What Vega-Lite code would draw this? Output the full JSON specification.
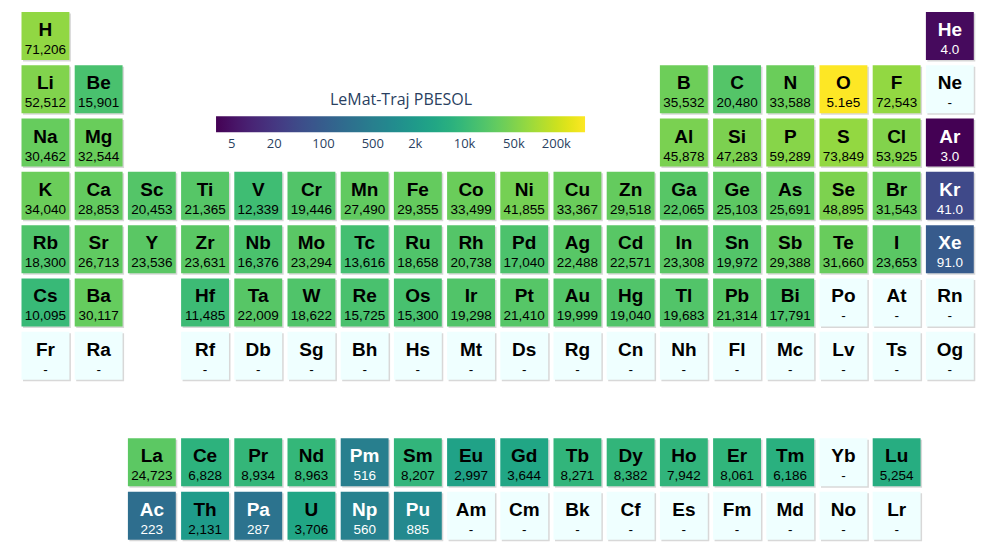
{
  "$schema": "https://vega.github.io/schema/vega-lite/v6.json",
  "autosize": "none",
  "padding": {"left": 18.84, "top": 9.3, "right": 0, "bottom": 0},
  "width": 957.6,
  "height": 533,
  "background": "white",
  "config": {"view": {"stroke": null}},
  "data": {"values": [
    {"symbol":"H","col":1,"row":1,"value":71206,"label":"71,206"},
    {"symbol":"He","col":18,"row":1,"value":4.0,"label":"4.0"},
    {"symbol":"Li","col":1,"row":2,"value":52512,"label":"52,512"},
    {"symbol":"Be","col":2,"row":2,"value":15901,"label":"15,901"},
    {"symbol":"B","col":13,"row":2,"value":35532,"label":"35,532"},
    {"symbol":"C","col":14,"row":2,"value":20480,"label":"20,480"},
    {"symbol":"N","col":15,"row":2,"value":33588,"label":"33,588"},
    {"symbol":"O","col":16,"row":2,"value":510000,"label":"5.1e5"},
    {"symbol":"F","col":17,"row":2,"value":72543,"label":"72,543"},
    {"symbol":"Ne","col":18,"row":2,"value":null,"label":"-"},
    {"symbol":"Na","col":1,"row":3,"value":30462,"label":"30,462"},
    {"symbol":"Mg","col":2,"row":3,"value":32544,"label":"32,544"},
    {"symbol":"Al","col":13,"row":3,"value":45878,"label":"45,878"},
    {"symbol":"Si","col":14,"row":3,"value":47283,"label":"47,283"},
    {"symbol":"P","col":15,"row":3,"value":59289,"label":"59,289"},
    {"symbol":"S","col":16,"row":3,"value":73849,"label":"73,849"},
    {"symbol":"Cl","col":17,"row":3,"value":53925,"label":"53,925"},
    {"symbol":"Ar","col":18,"row":3,"value":3.0,"label":"3.0"},
    {"symbol":"K","col":1,"row":4,"value":34040,"label":"34,040"},
    {"symbol":"Ca","col":2,"row":4,"value":28853,"label":"28,853"},
    {"symbol":"Sc","col":3,"row":4,"value":20453,"label":"20,453"},
    {"symbol":"Ti","col":4,"row":4,"value":21365,"label":"21,365"},
    {"symbol":"V","col":5,"row":4,"value":12339,"label":"12,339"},
    {"symbol":"Cr","col":6,"row":4,"value":19446,"label":"19,446"},
    {"symbol":"Mn","col":7,"row":4,"value":27490,"label":"27,490"},
    {"symbol":"Fe","col":8,"row":4,"value":29355,"label":"29,355"},
    {"symbol":"Co","col":9,"row":4,"value":33499,"label":"33,499"},
    {"symbol":"Ni","col":10,"row":4,"value":41855,"label":"41,855"},
    {"symbol":"Cu","col":11,"row":4,"value":33367,"label":"33,367"},
    {"symbol":"Zn","col":12,"row":4,"value":29518,"label":"29,518"},
    {"symbol":"Ga","col":13,"row":4,"value":22065,"label":"22,065"},
    {"symbol":"Ge","col":14,"row":4,"value":25103,"label":"25,103"},
    {"symbol":"As","col":15,"row":4,"value":25691,"label":"25,691"},
    {"symbol":"Se","col":16,"row":4,"value":48895,"label":"48,895"},
    {"symbol":"Br","col":17,"row":4,"value":31543,"label":"31,543"},
    {"symbol":"Kr","col":18,"row":4,"value":41.0,"label":"41.0"},
    {"symbol":"Rb","col":1,"row":5,"value":18300,"label":"18,300"},
    {"symbol":"Sr","col":2,"row":5,"value":26713,"label":"26,713"},
    {"symbol":"Y","col":3,"row":5,"value":23536,"label":"23,536"},
    {"symbol":"Zr","col":4,"row":5,"value":23631,"label":"23,631"},
    {"symbol":"Nb","col":5,"row":5,"value":16376,"label":"16,376"},
    {"symbol":"Mo","col":6,"row":5,"value":23294,"label":"23,294"},
    {"symbol":"Tc","col":7,"row":5,"value":13616,"label":"13,616"},
    {"symbol":"Ru","col":8,"row":5,"value":18658,"label":"18,658"},
    {"symbol":"Rh","col":9,"row":5,"value":20738,"label":"20,738"},
    {"symbol":"Pd","col":10,"row":5,"value":17040,"label":"17,040"},
    {"symbol":"Ag","col":11,"row":5,"value":22488,"label":"22,488"},
    {"symbol":"Cd","col":12,"row":5,"value":22571,"label":"22,571"},
    {"symbol":"In","col":13,"row":5,"value":23308,"label":"23,308"},
    {"symbol":"Sn","col":14,"row":5,"value":19972,"label":"19,972"},
    {"symbol":"Sb","col":15,"row":5,"value":29388,"label":"29,388"},
    {"symbol":"Te","col":16,"row":5,"value":31660,"label":"31,660"},
    {"symbol":"I","col":17,"row":5,"value":23653,"label":"23,653"},
    {"symbol":"Xe","col":18,"row":5,"value":91.0,"label":"91.0"},
    {"symbol":"Cs","col":1,"row":6,"value":10095,"label":"10,095"},
    {"symbol":"Ba","col":2,"row":6,"value":30117,"label":"30,117"},
    {"symbol":"Hf","col":4,"row":6,"value":11485,"label":"11,485"},
    {"symbol":"Ta","col":5,"row":6,"value":22009,"label":"22,009"},
    {"symbol":"W","col":6,"row":6,"value":18622,"label":"18,622"},
    {"symbol":"Re","col":7,"row":6,"value":15725,"label":"15,725"},
    {"symbol":"Os","col":8,"row":6,"value":15300,"label":"15,300"},
    {"symbol":"Ir","col":9,"row":6,"value":19298,"label":"19,298"},
    {"symbol":"Pt","col":10,"row":6,"value":21410,"label":"21,410"},
    {"symbol":"Au","col":11,"row":6,"value":19999,"label":"19,999"},
    {"symbol":"Hg","col":12,"row":6,"value":19040,"label":"19,040"},
    {"symbol":"Tl","col":13,"row":6,"value":19683,"label":"19,683"},
    {"symbol":"Pb","col":14,"row":6,"value":21314,"label":"21,314"},
    {"symbol":"Bi","col":15,"row":6,"value":17791,"label":"17,791"},
    {"symbol":"Po","col":16,"row":6,"value":null,"label":"-"},
    {"symbol":"At","col":17,"row":6,"value":null,"label":"-"},
    {"symbol":"Rn","col":18,"row":6,"value":null,"label":"-"},
    {"symbol":"Fr","col":1,"row":7,"value":null,"label":"-"},
    {"symbol":"Ra","col":2,"row":7,"value":null,"label":"-"},
    {"symbol":"Rf","col":4,"row":7,"value":null,"label":"-"},
    {"symbol":"Db","col":5,"row":7,"value":null,"label":"-"},
    {"symbol":"Sg","col":6,"row":7,"value":null,"label":"-"},
    {"symbol":"Bh","col":7,"row":7,"value":null,"label":"-"},
    {"symbol":"Hs","col":8,"row":7,"value":null,"label":"-"},
    {"symbol":"Mt","col":9,"row":7,"value":null,"label":"-"},
    {"symbol":"Ds","col":10,"row":7,"value":null,"label":"-"},
    {"symbol":"Rg","col":11,"row":7,"value":null,"label":"-"},
    {"symbol":"Cn","col":12,"row":7,"value":null,"label":"-"},
    {"symbol":"Nh","col":13,"row":7,"value":null,"label":"-"},
    {"symbol":"Fl","col":14,"row":7,"value":null,"label":"-"},
    {"symbol":"Mc","col":15,"row":7,"value":null,"label":"-"},
    {"symbol":"Lv","col":16,"row":7,"value":null,"label":"-"},
    {"symbol":"Ts","col":17,"row":7,"value":null,"label":"-"},
    {"symbol":"Og","col":18,"row":7,"value":null,"label":"-"},
    {"symbol":"La","col":3,"row":9,"value":24723,"label":"24,723"},
    {"symbol":"Ce","col":4,"row":9,"value":6828,"label":"6,828"},
    {"symbol":"Pr","col":5,"row":9,"value":8934,"label":"8,934"},
    {"symbol":"Nd","col":6,"row":9,"value":8963,"label":"8,963"},
    {"symbol":"Pm","col":7,"row":9,"value":516,"label":"516"},
    {"symbol":"Sm","col":8,"row":9,"value":8207,"label":"8,207"},
    {"symbol":"Eu","col":9,"row":9,"value":2997,"label":"2,997"},
    {"symbol":"Gd","col":10,"row":9,"value":3644,"label":"3,644"},
    {"symbol":"Tb","col":11,"row":9,"value":8271,"label":"8,271"},
    {"symbol":"Dy","col":12,"row":9,"value":8382,"label":"8,382"},
    {"symbol":"Ho","col":13,"row":9,"value":7942,"label":"7,942"},
    {"symbol":"Er","col":14,"row":9,"value":8061,"label":"8,061"},
    {"symbol":"Tm","col":15,"row":9,"value":6186,"label":"6,186"},
    {"symbol":"Yb","col":16,"row":9,"value":null,"label":"-"},
    {"symbol":"Lu","col":17,"row":9,"value":5254,"label":"5,254"},
    {"symbol":"Ac","col":3,"row":10,"value":223,"label":"223"},
    {"symbol":"Th","col":4,"row":10,"value":2131,"label":"2,131"},
    {"symbol":"Pa","col":5,"row":10,"value":287,"label":"287"},
    {"symbol":"U","col":6,"row":10,"value":3706,"label":"3,706"},
    {"symbol":"Np","col":7,"row":10,"value":560,"label":"560"},
    {"symbol":"Pu","col":8,"row":10,"value":885,"label":"885"},
    {"symbol":"Am","col":9,"row":10,"value":null,"label":"-"},
    {"symbol":"Cm","col":10,"row":10,"value":null,"label":"-"},
    {"symbol":"Bk","col":11,"row":10,"value":null,"label":"-"},
    {"symbol":"Cf","col":12,"row":10,"value":null,"label":"-"},
    {"symbol":"Es","col":13,"row":10,"value":null,"label":"-"},
    {"symbol":"Fm","col":14,"row":10,"value":null,"label":"-"},
    {"symbol":"Md","col":15,"row":10,"value":null,"label":"-"},
    {"symbol":"No","col":16,"row":10,"value":null,"label":"-"},
    {"symbol":"Lr","col":17,"row":10,"value":null,"label":"-"}
  ]},
  "encoding": {
    "x": {"field": "col", "type": "ordinal", "axis": null,
          "scale": {"type": "band", "domain": [1,2,3,4,5,6,7,8,9,10,11,12,13,14,15,16,17,18], "paddingInner": 0.1, "paddingOuter": 0.05}},
    "y": {"field": "row", "type": "ordinal", "axis": null,
          "scale": {"type": "band", "domain": [1,2,3,4,5,6,7,8,9,10], "paddingInner": 0.1, "paddingOuter": 0.05}}
  },
  "layer": [
    {"mark": {"type": "rect", "fill": "#d8d8d8", "xOffset": 1.5, "yOffset": 1.5}},
    {"transform": [{"filter": "datum.value == null"}],
     "mark": {"type": "rect", "fill": "#efffff"}},
    {"transform": [{"filter": "datum.value != null"}],
     "mark": {"type": "rect"},
     "encoding": {
       "color": {"field": "value", "type": "quantitative",
         "scale": {"type": "log", "scheme": "viridis", "domain": [3, 510000]},
         "legend": {
           "title": "LeMat-Traj PBESOL",
           "orient": "none", "direction": "horizontal",
           "legendX": 197.2, "legendY": 83,
           "gradientLength": 369, "gradientThickness": 16, "gradientStrokeWidth": 0,
           "titleAnchor": "middle", "titleFont": "Open Sans", "titleFontSize": 16,
           "titleFontWeight": "normal", "titleColor": "#2a3f5f", "titlePadding": 8,
           "labelFont": "Open Sans", "labelFontSize": 13, "labelColor": "#2a3f5f",
           "labelOffset": 6, "labelOverlap": false,
           "values": [5, 20, 100, 500, 2000, 10000, 50000, 200000],
           "labelExpr": "datum.value >= 1000 ? format(datum.value/1000, 'd') + 'k' : format(datum.value, 'd')"
         }}
     }},
    {"mark": {"type": "text", "font": "Liberation Sans", "fontWeight": "bold", "fontSize": 19, "baseline": "alphabetic", "dy": 0},
     "encoding": {
       "text": {"field": "symbol"},
       "color": {"condition": {"test": "datum.value != null && datum.value < 1200", "value": "white"}, "value": "black"}
     }},
    {"mark": {"type": "text", "font": "Liberation Sans", "fontSize": 13.5, "baseline": "alphabetic", "dy": 18},
     "encoding": {
       "text": {"field": "label"},
       "color": {"condition": {"test": "datum.value != null && datum.value < 1200", "value": "white"}, "value": "black"}
     }}
  ]
}
